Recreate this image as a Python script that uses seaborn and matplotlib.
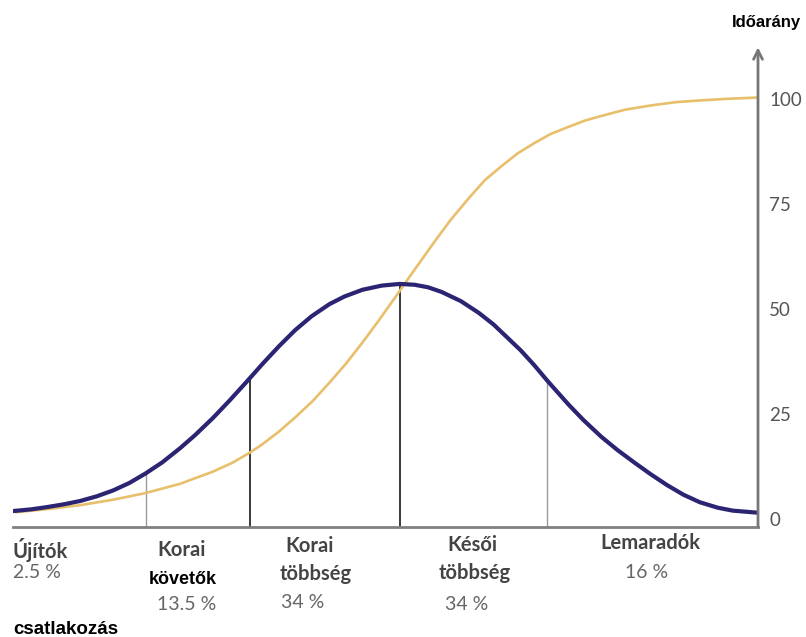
import matplotlib
matplotlib.use("Agg")
import matplotlib.pyplot as plt
import seaborn as sns

# time axis: standard deviations from the mean adoption time
bell_t = [-2.59, -2.47, -2.37, -2.25, -2.14, -2.03, -1.92, -1.81, -1.70, -1.59, -1.47,
          -1.37, -1.25, -1.14, -1.03, -1.00, -0.92, -0.81, -0.70, -0.59, -0.47, -0.37,
          -0.25, -0.12, 0.00, 0.10, 0.19, 0.28, 0.41, 0.53, 0.63, 0.81, 0.90, 0.99,
          1.13, 1.23, 1.35, 1.46, 1.57, 1.68, 1.79, 1.90, 2.01, 2.13, 2.23, 2.40]
bell_v = [1.8, 2.2, 2.7, 3.4, 4.2, 5.3, 6.7, 8.5, 10.8, 13.4, 16.8,
          19.9, 24.0, 28.1, 32.4, 33.6, 36.8, 41.0, 44.9, 48.2, 51.1, 52.9,
          54.5, 55.5, 55.9, 55.7, 55.1, 54.0, 51.8, 49.0, 46.2, 40.1, 36.6, 32.8,
          27.2, 23.5, 19.5, 16.3, 13.4, 10.6, 8.0, 5.7, 3.9, 2.6, 1.9, 1.4]

cum_t = [-2.57, -2.35, -2.14, -1.92, -1.70, -1.47, -1.25, -1.12, -1.00, -0.92, -0.81,
         -0.70, -0.58, -0.47, -0.36, -0.25, -0.14, -0.03, 0.08, 0.23, 0.34, 0.46,
         0.57, 0.68, 0.79, 0.90, 1.01, 1.13, 1.24, 1.35, 1.51, 1.68, 1.85, 2.01,
         2.20, 2.40]
cum_v = [1.5, 2.3, 3.2, 4.5, 6.1, 8.3, 11.2, 13.3, 15.8, 17.7, 20.7,
         24.1, 28.1, 32.4, 36.9, 41.9, 47.2, 52.7, 58.3, 65.8, 71.1, 76.2,
         80.6, 83.9, 87.0, 89.4, 91.6, 93.3, 94.8, 95.9, 97.4, 98.4, 99.2, 99.6,
         100.0, 100.3]

bounds = [-1.70, -1.00, 0.00, 0.99]
bound_tops = [10.8, 33.6, 55.9, 32.8]
y_ticks = [0, 25, 50, 75, 100]

axis_label = "Időarány"
x_label = "csatlakozás"

sns.set_style("white")
plt.rcParams["font.family"] = ["Lato", "DejaVu Sans"]

W, H = 806, 637
fig = plt.figure(figsize=(W / 100, H / 100), dpi=100)
ax = fig.add_axes([13 / W, 1 - 527 / H, 745 / W, 487 / H])

sns.lineplot(x=cum_t, y=cum_v, ax=ax, color="#E8BF6A", linewidth=1.9, sort=False)
sns.lineplot(x=bell_t, y=bell_v, ax=ax, color="#2A2473", linewidth=3.0, sort=False)

ymin = -2.0
ax.vlines(bounds[0], ymin, bound_tops[0], color="#9a9a9a", linewidth=1.0, zorder=1)
ax.vlines(bounds[1], ymin, bound_tops[1], color="#3a3a3a", linewidth=1.4, zorder=1)
ax.vlines(bounds[2], ymin, bound_tops[2], color="#3a3a3a", linewidth=1.4, zorder=1)
ax.vlines(bounds[3], ymin, bound_tops[3], color="#9a9a9a", linewidth=1.0, zorder=1)

ax.set_xlim(bell_t[0], bell_t[-1])
ax.set_ylim(ymin, 114)

for s in ["left", "top", "right"]:
    ax.spines[s].set_visible(False)
ax.spines["bottom"].set_color("#808080")
ax.spines["bottom"].set_linewidth(2)

ax.annotate("", xy=(1, 0.985), xycoords="axes fraction", xytext=(1, 0),
            textcoords="axes fraction",
            arrowprops=dict(arrowstyle="->", color="#777777", lw=2,
                            shrinkA=0, shrinkB=0, mutation_scale=16),
            annotation_clip=False)

ax.set_xticks([])
ax.yaxis.tick_right()
ax.set_yticks(y_ticks)
ax.set_yticklabels([str(v) for v in y_ticks])
ax.tick_params(axis="y", length=0, pad=8, labelsize=13.5, labelcolor="#555555")
ax.set_xlabel("")
ax.set_ylabel("")


def put(txt, x, y, ha="center", bold=True, color="#444444", size=14.5, family=None):
    fig.text(x / W, 1 - y / H, txt, ha=ha, va="center", color=color, fontsize=size,
             fontweight="bold" if bold else "normal",
             family=family if family else ["Lato", "DejaVu Sans"])


arial = ["Liberation Sans", "DejaVu Sans"]
pct = "#666666"

put("Újítók", 13, 550, ha="left")
put("2.5 %", 13, 573, ha="left", bold=False, color=pct, size=14)
put("Korai", 182, 550)
put("követők", 183, 580, color="black", size=13, family=arial)
put("13.5 %", 187, 604, bold=False, color=pct, size=14)
put("Korai", 310, 546)
put("többség", 316, 574)
put("34 %", 303, 603, bold=False, color=pct, size=14)
put("Késői", 472, 545)
put("többség", 475, 573)
put("34 %", 467, 605, bold=False, color=pct, size=14)
put("Lemaradók", 650, 543)
put("16 %", 647, 573, bold=False, color=pct, size=14)
put(x_label, 13, 630, ha="left", color="black", size=13.5, family=arial)
put(axis_label, 766, 22, color="black", size=12, family=arial)

fig.savefig("out.png", dpi=100)
